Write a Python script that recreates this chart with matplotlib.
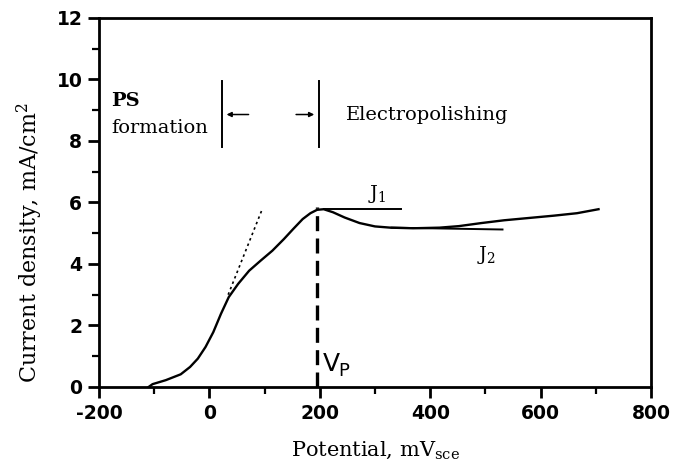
import matplotlib
matplotlib.use("Agg")
import matplotlib.pyplot as plt
from matplotlib.ticker import MultipleLocator

# polarisation curve
potential = [-110, -103, -79, -52, -35, -21, -7, 7, 21, 35, 52, 72, 93, 114, 135,
             152, 169, 183, 195, 207, 224, 245, 272, 300, 328, 369, 417, 452,
             493, 534, 576, 624, 666, 705]
current = [0.0, 0.09, 0.22, 0.41, 0.65, 0.92, 1.30, 1.78, 2.38, 2.92, 3.35, 3.78,
           4.11, 4.43, 4.81, 5.14, 5.46, 5.65, 5.76, 5.78, 5.68, 5.51, 5.33, 5.22,
           5.18, 5.16, 5.18, 5.23, 5.33, 5.42, 5.49, 5.57, 5.65, 5.78]

tangent_x = [34, 95]
tangent_y = [3.0, 5.75]

j1_x = [207, 348]
j1_y = [5.78, 5.78]
j2_x = [330, 531]
j2_y = [5.18, 5.12]

vp = 195
vp_top = 5.85

bar_left = 23
bar_right = 198
bar_bottom, bar_top = 7.8, 9.95

plt.rcParams['axes.unicode_minus'] = False
plt.rcParams['mathtext.fontset'] = 'dejavuserif'

serif = 'DejaVu Serif'

fig = plt.figure(figsize=(6.75, 4.73), dpi=100)
ax = fig.add_axes([0.1467, 0.182, 0.8177, 0.780])

ax.plot(potential, current, color='black', lw=1.7)
ax.plot(tangent_x, tangent_y, color='black', lw=1.2, ls=(0, (1.5, 2)))
ax.plot(j1_x, j1_y, color='black', lw=1.4)
ax.plot(j2_x, j2_y, color='black', lw=1.4)
ax.plot([vp, vp], [0, vp_top], color='black', lw=2.4, ls=(0, (4.5, 2.2)))

ax.plot([bar_left, bar_left], [bar_bottom, bar_top], color='black', lw=1.4)
ax.plot([bar_right, bar_right], [bar_bottom, bar_top], color='black', lw=1.4)
ax.annotate('', xy=(bar_left + 3, 8.86), xytext=(76, 8.86),
            arrowprops=dict(arrowstyle='-|>', color='black', lw=1.1, mutation_scale=7))
ax.annotate('', xy=(bar_right - 3, 8.86), xytext=(152, 8.86),
            arrowprops=dict(arrowstyle='-|>', color='black', lw=1.1, mutation_scale=7))

ax.text(-178, 9.3, 'PS', family=serif, fontsize=14, va='center', ha='left', fontweight='bold')
ax.text(-178, 8.43, 'formation', family=serif, fontsize=14, va='center', ha='left')
ax.text(247, 8.86, 'Electropolishing', family=serif, fontsize=14, va='center', ha='left')
ax.text(288, 6.28, r'J$_1$', family=serif, fontsize=14, va='center', ha='left')
ax.text(484, 4.3, r'J$_2$', family=serif, fontsize=14, va='center', ha='left')
ax.text(205, 0.75, 'V', family='DejaVu Sans', fontsize=18, va='center', ha='left')
ax.text(234, 0.52, 'P', family='DejaVu Sans', fontsize=13, va='center', ha='left')

ax.set_xlim(-200, 800)
ax.set_ylim(0, 12)
ax.xaxis.set_major_locator(MultipleLocator(200))
ax.xaxis.set_minor_locator(MultipleLocator(100))
ax.yaxis.set_major_locator(MultipleLocator(2))
ax.yaxis.set_minor_locator(MultipleLocator(1))
ax.tick_params(which='major', direction='out', length=8, width=2, pad=4)
ax.tick_params(which='minor', direction='out', length=5, width=1.6)
for lab in ax.get_xticklabels() + ax.get_yticklabels():
    lab.set_fontweight('bold')
    lab.set_fontfamily('DejaVu Sans')
    lab.set_fontsize(13.5)
for sp in ax.spines.values():
    sp.set_linewidth(2)

ax.set_xlabel(r'Potential, mV$_{\mathrm{sce}}$', family=serif, fontsize=15, labelpad=12)
ax.set_ylabel(r'Current density, mA/cm$^2$', family=serif, fontsize=16)
ax.yaxis.set_label_coords(-0.097, 0.39)

fig.savefig('out.png', dpi=100)
